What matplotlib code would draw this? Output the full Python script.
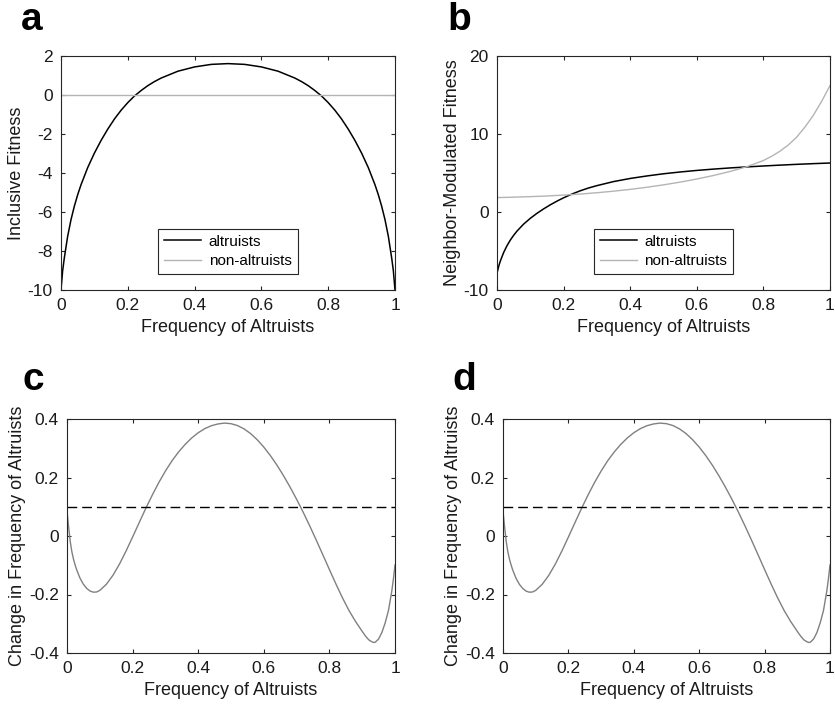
import matplotlib
matplotlib.use("Agg")
import matplotlib.pyplot as plt
from matplotlib.ticker import FormatStrFormatter

plt.rcParams['font.family'] = ['Liberation Sans', 'DejaVu Sans']
plt.rcParams['axes.unicode_minus'] = False

# panel a: inclusive fitness
freq_a = [0, 0.005, 0.01, 0.02, 0.03, 0.04, 0.05, 0.06, 0.08, 0.10, 0.12, 0.14, 0.16,
          0.18, 0.20, 0.22, 0.24, 0.26, 0.28, 0.30, 0.35, 0.40, 0.45, 0.50,
          0.55, 0.60, 0.65, 0.70, 0.72, 0.74, 0.76, 0.78, 0.80, 0.82, 0.84, 0.86,
          0.88, 0.90, 0.92, 0.94, 0.95, 0.96, 0.97, 0.98, 0.99, 0.995, 1.0]
incl_alt = [-10, -9.0, -8.35, -7.24, -6.39, -5.7, -5.11, -4.6, -3.72, -2.98, -2.33, -1.75, -1.23,
            -0.78, -0.39, -0.05, 0.23, 0.48, 0.69, 0.87, 1.22, 1.44, 1.57, 1.61,
            1.57, 1.44, 1.22, 0.87, 0.69, 0.48, 0.23, -0.05, -0.39, -0.78, -1.23, -1.75,
            -2.33, -2.98, -3.72, -4.6, -5.11, -5.7, -6.39, -7.24, -8.35, -9.0, -10]
incl_non = [0] * len(freq_a)

# panel b: neighbor-modulated fitness
freq_b = [0, 0.005, 0.01, 0.02, 0.03, 0.04, 0.05, 0.06, 0.08, 0.10, 0.12, 0.14, 0.16,
          0.18, 0.20, 0.225, 0.25, 0.275, 0.30, 0.35, 0.40, 0.45, 0.50, 0.55,
          0.60, 0.65, 0.70, 0.75, 0.80, 0.85, 0.90, 0.95, 1.0]
nm_alt = [-7.85, -6.97, -6.29, -5.19, -4.32, -3.6, -2.99, -2.45, -1.55, -0.81, -0.17, 0.40, 0.92,
          1.39, 1.82, 2.3, 2.72, 3.08, 3.38, 3.9, 4.3, 4.62, 4.9, 5.13,
          5.33, 5.5, 5.65, 5.78, 5.9, 6.01, 6.11, 6.2, 6.28]
freq_b_non = [0, 0.05, 0.10, 0.15, 0.20, 0.25, 0.30, 0.35, 0.40, 0.45, 0.50, 0.55, 0.60,
              0.65, 0.70, 0.75, 0.80, 0.825, 0.85, 0.875, 0.90, 0.925, 0.95, 0.975, 1.0]
nm_non = [1.85, 1.9, 1.97, 2.05, 2.17, 2.3, 2.47, 2.67, 2.9, 3.17, 3.48, 3.83, 4.23,
          4.68, 5.2, 5.8, 6.6, 7.15, 7.8, 8.6, 9.6, 10.9, 12.4, 14.2, 16.2]

# panels c and d: change in frequency of altruists
freq_c = [0, 0.005, 0.01, 0.015, 0.02, 0.025, 0.03, 0.04, 0.05, 0.06, 0.07, 0.08, 0.09,
          0.10, 0.12, 0.14, 0.16, 0.18, 0.20, 0.22, 0.24, 0.26, 0.28, 0.30, 0.32,
          0.34, 0.36, 0.38, 0.40, 0.42, 0.44, 0.46, 0.48, 0.50, 0.52, 0.54, 0.56,
          0.58, 0.60, 0.62, 0.64, 0.66, 0.68, 0.70, 0.72, 0.74, 0.76, 0.78, 0.80,
          0.82, 0.84, 0.86, 0.88, 0.90, 0.91, 0.92, 0.93, 0.935, 0.94, 0.95, 0.96,
          0.97, 0.98, 0.99, 0.995, 1.0]
delta_p = [0.085, 0.03, -0.02, -0.055, -0.08, -0.1, -0.117, -0.145, -0.165, -0.179, -0.188, -0.192, -0.1915,
           -0.186, -0.165, -0.1345, -0.096, -0.0515, -0.0035, 0.0455, 0.094, 0.14, 0.183, 0.222, 0.257,
           0.287, 0.313, 0.335, 0.353, 0.367, 0.377, 0.383, 0.386, 0.384, 0.3775, 0.366, 0.35,
           0.329, 0.304, 0.275, 0.2424, 0.2064, 0.1674, 0.1257, 0.0814, 0.0346, -0.0142, -0.0642, -0.1146,
           -0.1643, -0.2118, -0.2553, -0.2928, -0.326, -0.342, -0.355, -0.362, -0.364, -0.363, -0.352, -0.33,
           -0.297, -0.255, -0.19, -0.148, -0.099]
threshold = 0.1

W, H = 835, 708
fig = plt.figure(figsize=(W / 100, H / 100), dpi=100)

def px_axes(left, top, right, bottom):
    return fig.add_axes([left / W, 1 - bottom / H, (right - left) / W, (bottom - top) / H])

def style(ax, ylim, yticks, ylabel):
    ax.set_xlim(0, 1)
    ax.set_ylim(*ylim)
    ax.set_xticks([0, 0.2, 0.4, 0.6, 0.8, 1])
    ax.set_yticks(yticks)
    ax.xaxis.set_major_formatter(FormatStrFormatter('%g'))
    ax.yaxis.set_major_formatter(FormatStrFormatter('%g'))
    ax.tick_params(direction='in', length=3, width=0.8, top=True, right=True,
                   labelsize=12.5, colors='#262626', labelcolor='#1a1a1a', pad=6)
    for s in ax.spines.values():
        s.set_color('#262626')
        s.set_linewidth(0.8)
    ax.set_xlabel('Frequency of Altruists', fontsize=13, color='#1a1a1a', labelpad=4)
    ax.set_ylabel(ylabel, fontsize=13, color='#1a1a1a', labelpad=2)

ax_a = px_axes(61, 56, 395, 290)
ax_a.plot(freq_a, incl_alt, color='black', lw=1.1, label='altruists')
ax_a.plot(freq_a, incl_non, color='#b4b4b4', lw=1.0, label='non-altruists')
style(ax_a, (-10, 2), range(-10, 3, 2), 'Inclusive Fitness')

ax_b = px_axes(497, 56, 830, 290)
ax_b.plot(freq_b, nm_alt, color='black', lw=1.1, label='altruists')
ax_b.plot(freq_b_non, nm_non, color='#b4b4b4', lw=1.0, label='non-altruists')
style(ax_b, (-10, 20), [-10, 0, 10, 20], 'Neighbor-Modulated Fitness')

for ax in (ax_a, ax_b):
    leg = ax.legend(loc='lower center', bbox_to_anchor=(0.5, 0.068), borderaxespad=0,
                    fontsize=11, fancybox=False, framealpha=1, edgecolor='#262626',
                    handlelength=2.4, handletextpad=0.5, borderpad=0.4, labelspacing=0.35)
    leg.get_frame().set_linewidth(0.8)

ax_c = px_axes(67, 419, 395, 653)
ax_d = px_axes(503, 419, 830, 653)
for ax in (ax_c, ax_d):
    ax.plot(freq_c, delta_p, color='#808080', lw=1.0)
    ax.axhline(threshold, color='black', lw=1.0, ls=(0, (7, 3.6)))
    style(ax, (-0.4, 0.4), [-0.4, -0.2, 0, 0.2, 0.4], 'Change in Frequency of Altruists')

for letter, x, y in [('a', 21, 30), ('b', 447, 30), ('c', 22, 390), ('d', 452, 390)]:
    fig.text(x / W, 1 - y / H, letter, fontsize=28, fontweight='bold', va='baseline')

fig.savefig('out.png', dpi=100)
